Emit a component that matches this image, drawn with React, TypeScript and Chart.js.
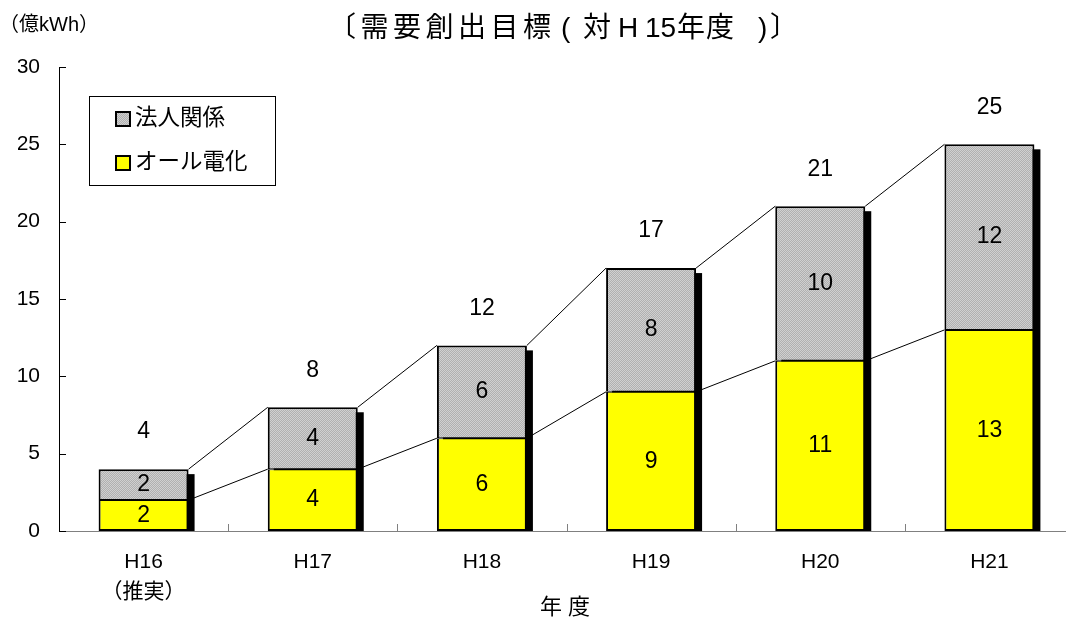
import React, { useEffect, useRef } from "react";
import { Chart, registerables } from "chart.js";

Chart.register(...registerables);

// Fiscal years on the category axis (first one is an estimate)
const years: (string | string[])[] = [["H16", "（推実）"], "H17", "H18", "H19", "H20", "H21"];
// Demand creation targets, 億kWh
const allElectric = [2, 4, 6, 9, 11, 13];
const corporate = [2, 4, 6, 8, 10, 12];
const yTickValues = [0, 5, 10, 15, 20, 25, 30];

const seriesNames = ["オール電化", "法人関係"];
// Title set piece by piece to keep its loose, spaced-out typesetting
const titlePieces: [string, number, number][] = [
  ["〔需要創出目標", 328, 4.5],
  ["(", 561, 0],
  ["対", 583, 0],
  ["H", 618, 0],
  ["15", 645, 0],
  ["年度", 677, 1],
  [")", 758, 0],
  ["〕", 770, 0],
];
const unitText = "（億kWh）";
const xTitleText = "年 度";

const FONT = "'Liberation Sans', 'Noto Sans CJK JP', sans-serif";
const YELLOW = "#ffff00";

function makeGrayPattern(): CanvasPattern | string {
  const c = document.createElement("canvas");
  c.width = 2;
  c.height = 2;
  const g = c.getContext("2d");
  if (!g) return "#c0c0c0";
  g.fillStyle = "#b0b0b0";
  g.fillRect(0, 0, 2, 2);
  g.fillStyle = "#d0d0d0";
  g.fillRect(0, 0, 1, 1);
  g.fillRect(1, 1, 1, 1);
  const p = g.createPattern(c, "repeat");
  return p || "#c0c0c0";
}

export default function App() {
  const canvasRef = useRef<HTMLCanvasElement | null>(null);

  useEffect(() => {
    const canvas = canvasRef.current;
    if (!canvas) return;
    const grayFill = makeGrayPattern();

    const decorations = {
      id: "decorations",
      beforeDatasetsDraw(chart: any) {
        const ctx = chart.ctx;
        const y = chart.scales.y;
        const base = y.getPixelForValue(0);
        const lower = chart.getDatasetMeta(0).data;
        const upper = chart.getDatasetMeta(1).data;
        ctx.save();
        // connector lines between neighbouring bars
        ctx.strokeStyle = "#000";
        ctx.lineWidth = 1;
        for (let i = 0; i < lower.length - 1; i++) {
          for (const set of [lower, upper]) {
            const a = set[i];
            const b = set[i + 1];
            ctx.beginPath();
            ctx.moveTo(a.x + a.width / 2, a.y);
            ctx.lineTo(b.x - b.width / 2, b.y);
            ctx.stroke();
          }
        }
        // drop shadows behind each column
        ctx.fillStyle = "#000";
        for (let i = 0; i < upper.length; i++) {
          const bar = upper[i];
          const left = bar.x - bar.width / 2;
          ctx.fillRect(left + 6, bar.y + 5, bar.width, base - bar.y - 5);
        }
        ctx.restore();
      },
      afterDatasetsDraw(chart: any) {
        const ctx = chart.ctx;
        const area = chart.chartArea;
        const x = chart.scales.x;
        const y = chart.scales.y;
        const lower = chart.getDatasetMeta(0).data;
        const upper = chart.getDatasetMeta(1).data;
        ctx.save();

        // inward tick marks on the value axis
        ctx.strokeStyle = "#000";
        ctx.lineWidth = 1;
        for (const v of yTickValues) {
          const py = Math.round(y.getPixelForValue(v)) + 0.5;
          ctx.beginPath();
          ctx.moveTo(area.left, py);
          ctx.lineTo(area.left + 7, py);
          ctx.stroke();
        }
        // upward tick marks between categories
        ctx.strokeStyle = "#808080";
        for (let i = 0; i < years.length - 1; i++) {
          const px = Math.round((x.getPixelForValue(i) + x.getPixelForValue(i + 1)) / 2) + 0.5;
          ctx.beginPath();
          ctx.moveTo(px, area.bottom);
          ctx.lineTo(px, area.bottom - 7);
          ctx.stroke();
        }

        // value labels
        ctx.fillStyle = "#000";
        ctx.font = `23px ${FONT}`;
        ctx.textAlign = "center";
        ctx.textBaseline = "middle";
        for (let i = 0; i < lower.length; i++) {
          const lo = lower[i];
          const up = upper[i];
          ctx.fillText(String(allElectric[i]), lo.x, (lo.y + lo.base) / 2);
          ctx.fillText(String(corporate[i]), up.x, (up.y + up.base) / 2);
          ctx.fillText(String(allElectric[i] + corporate[i]), up.x, up.y - 37);
        }

        // legend box
        ctx.fillStyle = "#fff";
        ctx.fillRect(89.5, 96.5, 186, 89);
        ctx.strokeStyle = "#000";
        ctx.lineWidth = 1;
        ctx.strokeRect(89.5, 96.5, 186, 89);
        const entries = [
          { name: seriesNames[1], fill: grayFill, cy: 119 },
          { name: seriesNames[0], fill: YELLOW, cy: 163 },
        ];
        ctx.font = `22.5px ${FONT}`;
        ctx.textAlign = "left";
        for (const e of entries) {
          ctx.fillStyle = "#000";
          ctx.fillRect(115, e.cy - 8, 16, 16);
          ctx.fillStyle = e.fill as any;
          ctx.fillRect(117, e.cy - 6, 12, 12);
          ctx.fillStyle = "#000";
          ctx.fillText(e.name, 135, e.cy);
        }

        // title, unit and category axis title
        ctx.textAlign = "left";
        ctx.font = `28px ${FONT}`;
        for (const [text, px, spacing] of titlePieces) {
          (ctx as any).letterSpacing = `${spacing}px`;
          ctx.fillText(text, px, 29);
        }
        (ctx as any).letterSpacing = "0px";
        ctx.font = `20px ${FONT}`;
        ctx.fillText(unitText, -1, 25);
        ctx.textAlign = "center";
        ctx.font = `22px ${FONT}`;
        ctx.fillText(xTitleText, 565, 608);
        ctx.restore();
      },
    };

    const chart = new Chart(canvas, {
      type: "bar",
      data: {
        labels: years,
        datasets: [
          {
            label: seriesNames[0],
            data: allElectric,
            backgroundColor: YELLOW,
            borderColor: "#000",
            borderWidth: { left: 2, right: 2, bottom: 2, top: 1 },
            borderSkipped: false,
            categoryPercentage: 1,
            barPercentage: 0.532,
          },
          {
            label: seriesNames[1],
            data: corporate,
            backgroundColor: grayFill as any,
            borderColor: "#000",
            borderWidth: { left: 2, right: 2, top: 2, bottom: 1 },
            borderSkipped: false,
            categoryPercentage: 1,
            barPercentage: 0.532,
          },
        ],
      },
      options: {
        responsive: false,
        animation: false,
        layout: { autoPadding: false, padding: { left: 18, top: 67, right: 6, bottom: 14 } },
        plugins: {
          legend: { display: false },
          title: { display: false },
          tooltip: { enabled: false },
        },
        scales: {
          x: {
            stacked: true,
            grid: { display: false, drawTicks: false },
            border: { display: true, color: "#808080", width: 1 },
            ticks: {
              color: "#000",
              font: { family: FONT, size: 21, lineHeight: 1.4 },
              padding: 17,
              maxRotation: 0,
              autoSkip: false,
            },
            afterFit(scale: any) {
              scale.height = 73;
            },
          },
          y: {
            stacked: true,
            min: 0,
            max: 30,
            grid: { display: false, drawTicks: false },
            border: { display: true, color: "#000", width: 1 },
            ticks: {
              stepSize: 5,
              color: "#000",
              font: { family: FONT, size: 21 },
              padding: 19,
            },
            afterFit(scale: any) {
              scale.width = 41;
            },
          },
        },
      },
      plugins: [decorations],
    });

    return () => chart.destroy();
  }, []);

  return (
    <div
      style={{
        position: "fixed",
        left: 0,
        top: 0,
        width: 1066,
        height: 618,
        overflow: "hidden",
        background: "#fff",
      }}
    >
      <canvas ref={canvasRef} width={1080} height={618} style={{ display: "block", width: 1080, height: 618 }} />
    </div>
  );
}
